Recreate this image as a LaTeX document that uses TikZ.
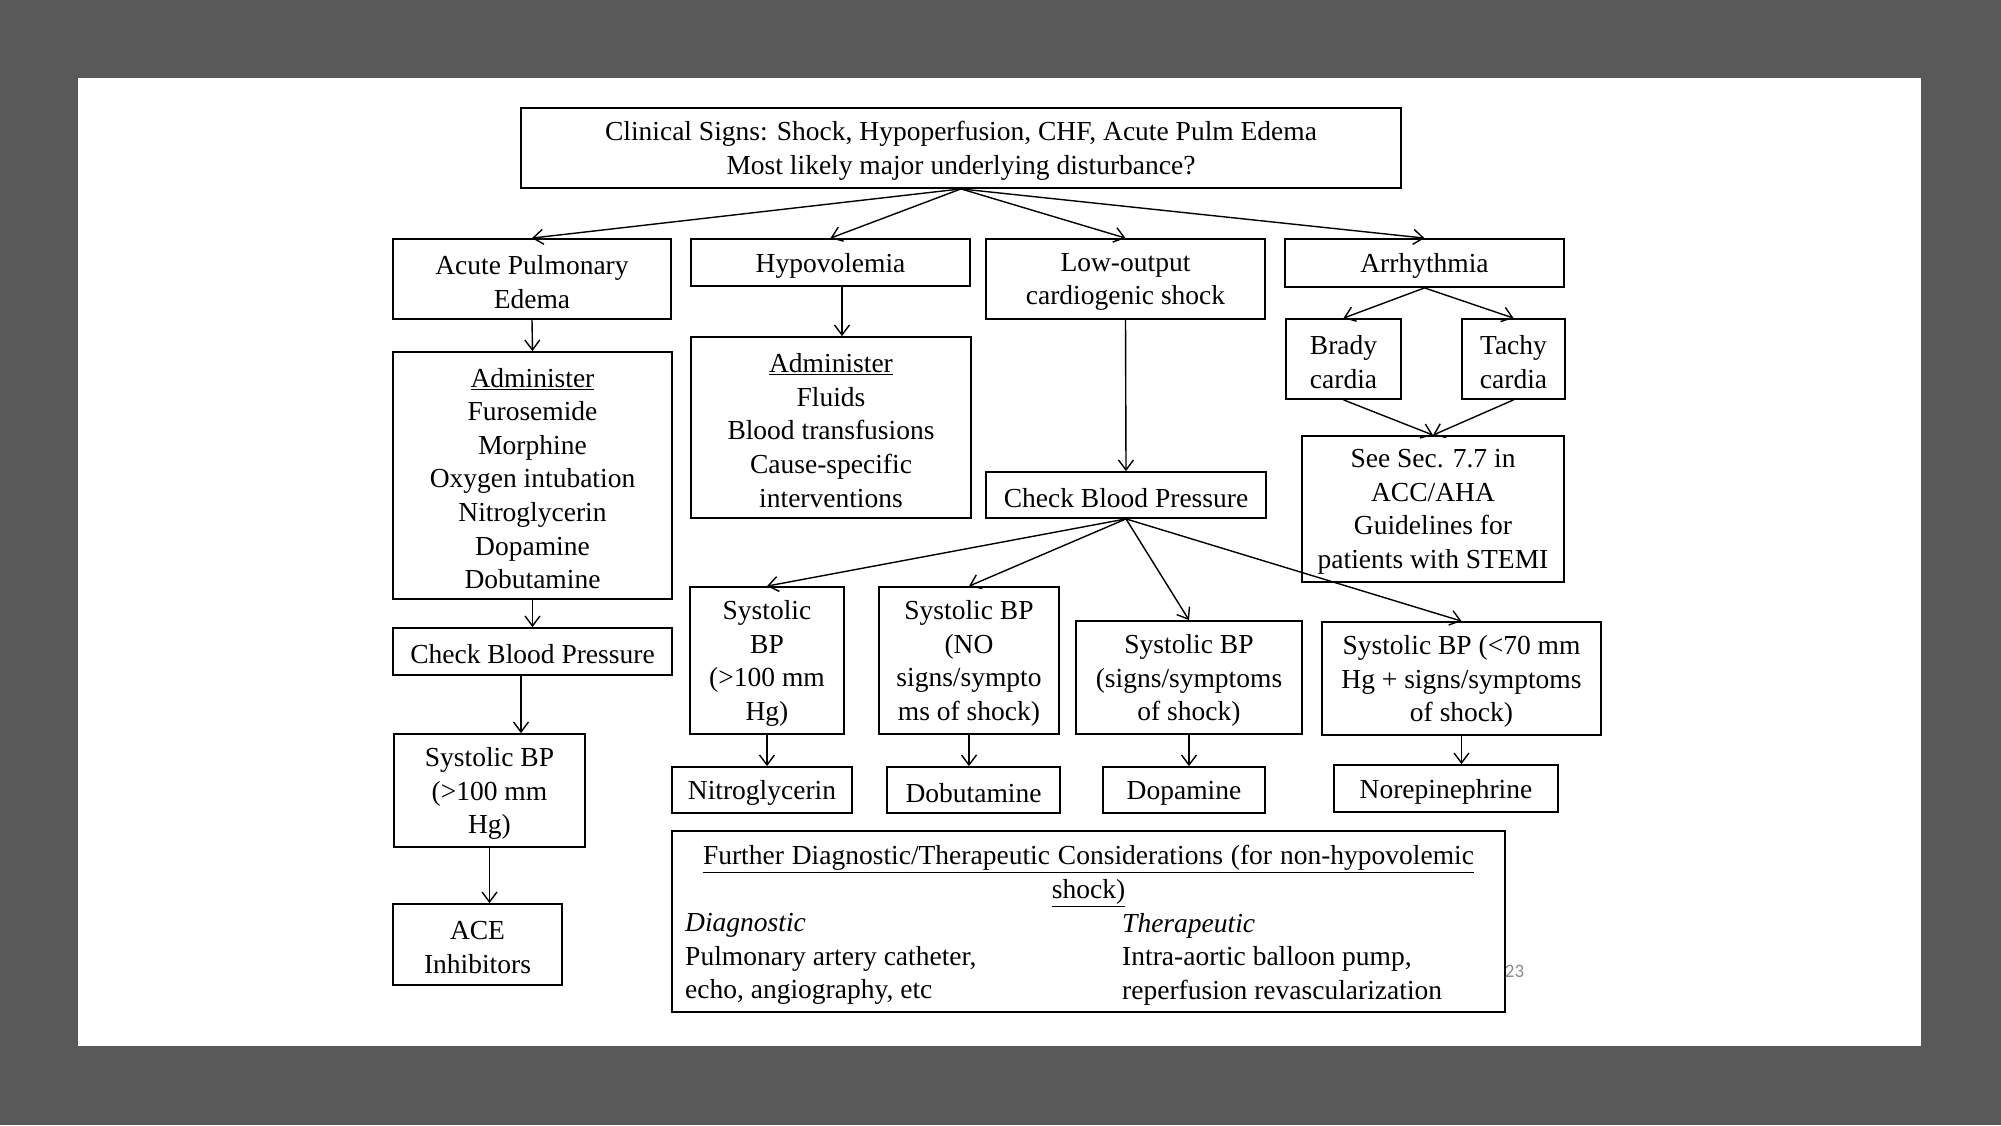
\documentclass[tikz,border=0pt]{standalone}
\usepackage{fontspec}
\setmainfont{Liberation Serif}
\newfontfamily\pagenumfont{Carlito}
\usetikzlibrary{arrows.meta,calc}
\definecolor{framegray}{RGB}{89,89,89}
\definecolor{pagegray}{RGB}{140,140,140}
% box node (name) plus its text node (name-t), text lowered slightly
\newcommand{\bx}[6]{%
  \node[box, minimum width=#4, minimum height=#5] (#1) at (#2,#3) {};
  \node[txt, align=center] (#1-t) at (#2,#3+3) {#6};}
\begin{document}
\begin{tikzpicture}[x=1pt,y=-1pt,
  box/.style={draw, line width=1.8pt, inner sep=0pt},
  txt/.style={align=left, inner sep=0pt, font=\fontsize{27.5}{33.6}\selectfont},
  arr/.style={line width=1.4pt, -{Straight Barb[length=10pt,width=15pt]}},
]
\fill[framegray] (0,0) rectangle (2001,1125);
\fill[white] (78,78) rectangle (1921,1046);
\useasboundingbox (0,0) rectangle (2001,1125);

% top level
\bx{top}{961}{148}{880}{80}{Clinical Signs: Shock, Hypoperfusion, CHF, Acute Pulm Edema\\Most likely major underlying disturbance?}
\bx{ape}{532}{279}{278}{80}{Acute Pulmonary\\Edema}
\bx{hypo}{830.5}{262.5}{279}{47}{Hypovolemia}
\bx{low}{1125.5}{279}{279}{80}{Low-output\\cardiogenic shock}
\bx{arrh}{1424.5}{263}{279}{48}{Arrhythmia}

% arrhythmia branch
\bx{brady}{1343.5}{359}{115}{80}{Brady\\cardia}
\bx{tachy}{1513.5}{359}{103}{80}{Tachy\\cardia}
\bx{see}{1433}{509}{262}{146}{See Sec. 7.7 in\\ACC/AHA\\Guidelines for\\patients with STEMI}

% left column
\bx{admL}{532.5}{475.5}{279}{247}{\underline{Administer}\\Furosemide\\Morphine\\Oxygen intubation\\Nitroglycerin\\Dopamine\\Dobutamine}
\bx{cbpL}{532.5}{651.5}{279}{47}{Check Blood Pressure}
\bx{sysL}{489.5}{790.5}{191}{113}{Systolic BP\\(>100 mm\\Hg)}
\bx{ace}{477.5}{944.5}{169}{81}{ACE\\Inhibitors}

% hypovolemia
\bx{admH}{831}{427.5}{280}{181}{\underline{Administer}\\Fluids\\Blood transfusions\\Cause-specific\\interventions}

% cardiogenic shock branch
\bx{cbpC}{1126}{495}{280}{46}{Check Blood Pressure}
\bx{s1}{767}{660.5}{154}{147}{Systolic\\BP\\(>100 mm\\Hg)}
\bx{s2}{969}{660.5}{180}{147}{Systolic BP\\(NO\\signs/sympto\\ms of shock)}
\bx{s3}{1189}{677.5}{226}{113}{Systolic BP\\(signs/symptoms\\of shock)}
\bx{s4}{1461.5}{678.5}{279}{113}{Systolic BP (<70 mm\\Hg + signs/symptoms\\of shock)}
\bx{nitro}{762}{790}{180}{46}{Nitroglycerin}
\bx{dob}{973.5}{790}{173}{46}{Dobutamine}
\bx{dop}{1184}{790}{162}{46}{Dopamine}
\bx{nor}{1446}{788.5}{224}{47}{Norepinephrine}

% further considerations
\node[box, minimum width=833, minimum height=181] (further) at (1088.5,921.5) {};
\node[txt, align=center] (fhead) at (1088.5,876)
  {\underline{\makebox[771pt][s]{Further Diagnostic/Therapeutic Considerations (for non-hypovolemic}}\\\underline{shock)}};
\node[txt, anchor=west] (diag) at (685,959)
  {\textit{Diagnostic}\\Pulmonary artery catheter,\\echo, angiography, etc};
\node[txt, anchor=west] (ther) at (1122,959)
  {\textit{Therapeutic}\\Intra-aortic balloon pump,\\reperfusion revascularization};

% page number
\node[inner sep=0pt, text=pagegray, font=\pagenumfont\fontsize{19}{22}\selectfont] (pg) at (1514.5,971.5) {23};

% connectors
\coordinate (hx) at (842,0);
\coordinate (lx) at (521,0);
\draw[arr] (top.south) -- (ape.north);
\draw[arr] (top.south) -- (hypo.north);
\draw[arr] (top.south) -- (low.north);
\draw[arr] (top.south) -- (arrh.north);
\draw[arr] (ape.south) -- (admL.north);
\draw[arr] (hypo.south -| hx) -- (admH.north -| hx);
\draw[arr] (low.south) -- (cbpC.north);
\draw[arr] (arrh.south) -- (brady.north);
\draw[arr] (arrh.south) -- (tachy.north);
\draw[arr] (brady.south) -- (see.north);
\draw[arr] (tachy.south) -- (see.north);
\draw[arr] (admL.south) -- (cbpL.north);
\draw[arr] (cbpL.south -| lx) -- (sysL.north -| lx);
\draw[arr] (sysL.south) -- (sysL.south |- ace.north);
\draw[arr] (cbpC.south) -- (s1.north);
\draw[arr] (cbpC.south) -- (s2.north);
\draw[arr] (cbpC.south) -- (s3.north);
\draw[arr] (cbpC.south) -- (s4.north);
\draw[arr] (s1.south) -- (s1.south |- nitro.north);
\draw[arr] (s2.south) -- (s2.south |- dob.north);
\draw[arr] (s3.south) -- (s3.south |- dop.north);
\draw[arr] (s4.south) -- (s4.south |- nor.north);
\end{tikzpicture}
\end{document}
